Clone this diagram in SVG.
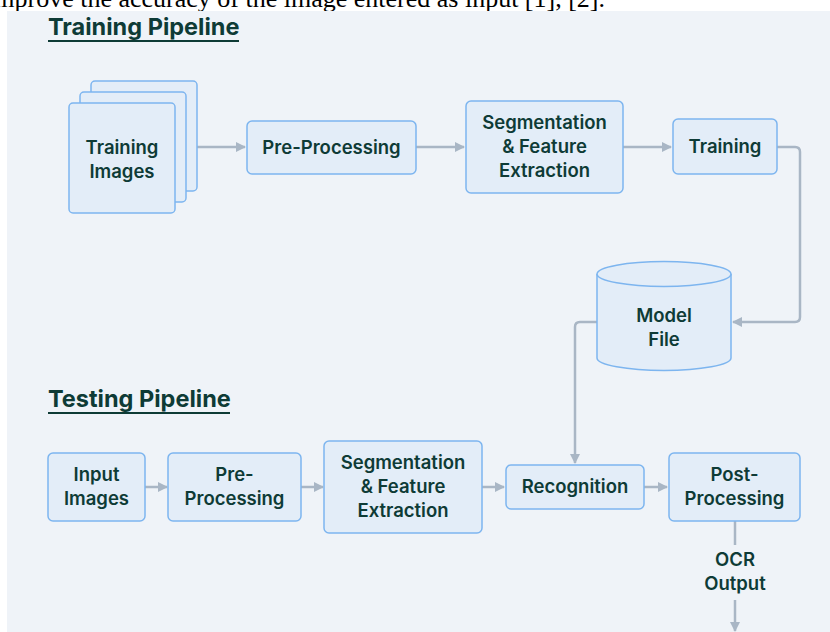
<svg xmlns="http://www.w3.org/2000/svg" width="830" height="632" viewBox="0 0 830 632">
<defs>
<style>
.node{fill:#E3EDF8;stroke:#7DB5EF;stroke-width:1.5}
.lbl{font-family:Inter,"Liberation Sans",sans-serif;font-weight:600;font-size:18.5px;fill:#0E3B36;text-anchor:middle}
.title{font-family:Inter,"Liberation Sans",sans-serif;font-weight:700;font-size:23.5px;fill:#0E3B36}
.conn{fill:none;stroke:#A9B6C5;stroke-width:2.5}
</style>
<marker id="ah" viewBox="0 0 10 10" refX="9" refY="5" markerWidth="10" markerHeight="10" markerUnits="userSpaceOnUse" orient="auto">
<path d="M0,0 L10,5 L0,10 z" fill="#A9B6C5"/>
</marker>
</defs>
<rect width="830" height="632" fill="#FFFFFF"/>
<text x="605" y="7" text-anchor="end" font-family="'Liberation Serif',serif" font-size="26" fill="#000">improve the accuracy of the image entered as input [1], [2].</text>
<rect x="7" y="11" width="823" height="621" fill="#EFF3F8"/>
<g id="title-training">
<text class="title" x="48" y="35">Training Pipeline</text>
<rect x="48" y="40" width="191" height="2" fill="#0E3B36"/>
</g>
<g id="title-testing">
<text class="title" x="48" y="407">Testing Pipeline</text>
<rect x="48" y="412" width="182" height="2" fill="#0E3B36"/>
</g>
<g id="connectors">
<path class="conn" d="M197,147 H245" marker-end="url(#ah)"/>
<path class="conn" d="M416,147 H464" marker-end="url(#ah)"/>
<path class="conn" d="M623,147 H671" marker-end="url(#ah)"/>
<path class="conn" d="M777,147 H795 Q800,147 800,152 V317 Q800,322 795,322 H733" marker-end="url(#ah)"/>
<path class="conn" d="M597,322 H580 Q575,322 575,327 V463" marker-end="url(#ah)"/>
<path class="conn" d="M145,487 H167" marker-end="url(#ah)"/>
<path class="conn" d="M301,487 H323" marker-end="url(#ah)"/>
<path class="conn" d="M482,487 H504" marker-end="url(#ah)"/>
<path class="conn" d="M644,487 H667" marker-end="url(#ah)"/>
<path class="conn" d="M735,521 V545"/>
<path class="conn" d="M735,600 V631" marker-end="url(#ah)"/>
</g>
<g id="training-images">
<rect class="node" x="91" y="81" width="106" height="110" rx="4"/>
<rect class="node" x="80" y="92" width="106" height="110" rx="4"/>
<rect class="node" x="69" y="103" width="106" height="110" rx="4"/>
<text class="lbl" x="122" y="154">Training</text>
<text class="lbl" x="122" y="178">Images</text>
</g>
<g id="train-preprocessing">
<rect class="node" x="247" y="121" width="169" height="53" rx="5"/>
<text class="lbl" x="331.5" y="154">Pre-Processing</text>
</g>
<g id="train-segmentation">
<rect class="node" x="466" y="101" width="157" height="92" rx="5"/>
<text class="lbl" x="544.5" y="129">Segmentation</text>
<text class="lbl" x="544.5" y="153">&amp; Feature</text>
<text class="lbl" x="544.5" y="177">Extraction</text>
</g>
<g id="training">
<rect class="node" x="673" y="119" width="104" height="55" rx="5"/>
<text class="lbl" x="725" y="153">Training</text>
</g>
<g id="model-file">
<path class="node" d="M597,274 V358 A67,12.5 0 0 0 731,358 V274"/>
<ellipse class="node" cx="664" cy="274" rx="67" ry="12.5"/>
<text class="lbl" x="664" y="322">Model</text>
<text class="lbl" x="664" y="346">File</text>
</g>
<g id="input-images">
<rect class="node" x="48" y="453" width="97" height="68" rx="5"/>
<text class="lbl" x="96.5" y="481">Input</text>
<text class="lbl" x="96.5" y="505">Images</text>
</g>
<g id="test-preprocessing">
<rect class="node" x="168" y="453" width="133" height="68" rx="5"/>
<text class="lbl" x="234.5" y="481">Pre-</text>
<text class="lbl" x="234.5" y="505">Processing</text>
</g>
<g id="test-segmentation">
<rect class="node" x="324" y="441" width="158" height="92" rx="5"/>
<text class="lbl" x="403" y="469">Segmentation</text>
<text class="lbl" x="403" y="493">&amp; Feature</text>
<text class="lbl" x="403" y="517">Extraction</text>
</g>
<g id="recognition">
<rect class="node" x="506" y="465" width="138" height="44" rx="5"/>
<text class="lbl" x="575" y="493">Recognition</text>
</g>
<g id="post-processing">
<rect class="node" x="669" y="453" width="131" height="68" rx="5"/>
<text class="lbl" x="734.5" y="481">Post-</text>
<text class="lbl" x="734.5" y="505">Processing</text>
</g>
<g id="ocr-output">
<text class="lbl" x="735" y="566">OCR</text>
<text class="lbl" x="735" y="590">Output</text>
</g>
</svg>
